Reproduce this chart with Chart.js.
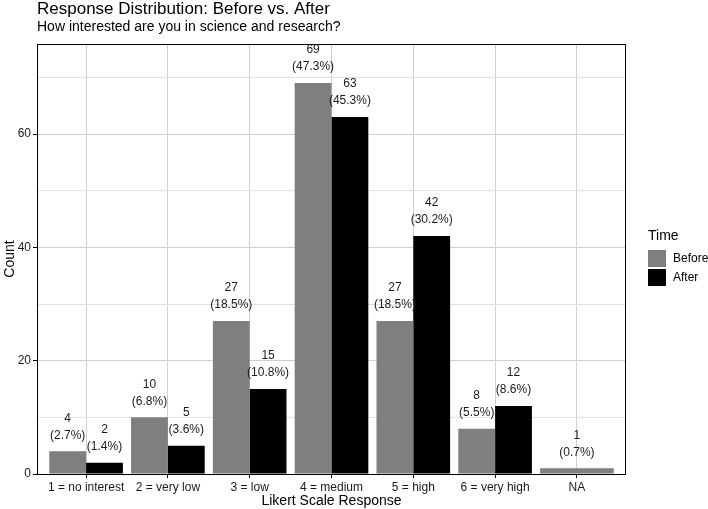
<!DOCTYPE html>
<html>
<head>
<meta charset="utf-8">
<script src="https://cdn.jsdelivr.net/npm/chart.js@4/dist/chart.umd.min.js"></script>
<style>
  html, body { margin: 0; padding: 0; background: #fff; }
  #wrap { width: 708px; height: 509px; }
</style>
</head>
<body>
<div id="wrap"><canvas id="c" width="708" height="509"></canvas></div>
<script>
var categories = ['1 = no interest', '2 = very low', '3 = low', '4 = medium', '5 = high', '6 = very high', 'NA'];
var before = [4, 10, 27, 69, 27, 8, 1];
var after = [2, 5, 15, 63, 42, 12, null];
var yTicks = [0, 10, 20, 30, 40, 50, 60, 70];
var yMax = 75.9;

var FONT = '"Liberation Sans", Arial, Helvetica, sans-serif';

function toPoints(arr)
{
    return arr.map(function(v, i) { return { x: i + 1, y: v }; });
}
function total(arr)
{
    return arr.reduce(function(a, b) { return a + (b || 0); }, 0);
}

var barLabels = {
    id: 'barLabels',
    afterDatasetsDraw: function(chart)
    {
        var ctx = chart.ctx;
        ctx.save();
        ctx.font = '12px ' + FONT;
        ctx.fillStyle = '#1a1a1a';
        ctx.textAlign = 'center';
        ctx.textBaseline = 'middle';
        chart.data.datasets.forEach(function(ds, di)
        {
            var meta = chart.getDatasetMeta(di);
            var sum = total(ds.raw);
            meta.data.forEach(function(el, i)
            {
                var v = ds.raw[i];
                if (v === null || v === undefined) return;
                var pct = (v / sum * 100).toFixed(1);
                ctx.fillText(String(v), el.x, el.y - 33);
                ctx.fillText('(' + pct + '%)', el.x, el.y - 16);
            });
        });
        ctx.restore();
    },
    afterDraw: function(chart)
    {
        var ctx = chart.ctx;
        var a = chart.chartArea;
        ctx.save();
        // panel border
        ctx.strokeStyle = '#000';
        ctx.lineWidth = 1;
        ctx.strokeRect(a.left + 0.5, a.top + 0.5, a.right - a.left - 1, a.bottom - a.top);
        // titles
        ctx.fillStyle = '#000';
        ctx.textAlign = 'left';
        ctx.textBaseline = 'alphabetic';
        ctx.font = '17px ' + FONT;
        ctx.fillText('Response Distribution: Before vs. After', 37, 14);
        ctx.font = '14px ' + FONT;
        ctx.fillText('How interested are you in science and research?', 37, 31);
        // axis titles
        ctx.font = '14px ' + FONT;
        ctx.textAlign = 'center';
        ctx.textBaseline = 'middle';
        ctx.fillText('Likert Scale Response', (a.left + a.right) / 2, 501);
        ctx.save();
        ctx.translate(10, (a.top + a.bottom) / 2);
        ctx.rotate(-Math.PI / 2);
        ctx.fillText('Count', 0, 0);
        ctx.restore();
        // legend
        ctx.textAlign = 'left';
        ctx.font = '14px ' + FONT;
        ctx.fillText('Time', 648, 236);
        ctx.font = '12px ' + FONT;
        var keys = [['Before', '#7f7f7f'], ['After', '#000000']];
        keys.forEach(function(k, i)
        {
            var y = 250 + i * 19;
            ctx.fillStyle = k[1];
            ctx.fillRect(648, y, 18, 17);
            ctx.fillStyle = '#000';
            ctx.fillText(k[0], 673, y + 9);
        });
        ctx.restore();
    }
};

window.onload = function()
{
    var chart = new Chart(document.getElementById('c').getContext('2d'), {
        type: 'bar',
        data: {
            datasets: [
                {
                    label: 'Before',
                    data: toPoints(before),
                    raw: before,
                    backgroundColor: '#7f7f7f',
                    categoryPercentage: 0.9,
                    barPercentage: 1.0,
                    skipNull: true
                },
                {
                    label: 'After',
                    data: toPoints(after),
                    raw: after,
                    backgroundColor: '#000000',
                    categoryPercentage: 0.9,
                    barPercentage: 1.0,
                    skipNull: true
                }
            ]
        },
        options: {
            responsive: false,
            animation: false,
            layout: { padding: { top: 44, right: 82, left: 0, bottom: 0 } },
            plugins: {
                legend: { display: false },
                tooltip: { enabled: false }
            },
            scales: {
                x: {
                    type: 'linear',
                    min: 0.4,
                    max: 7.6,
                    offset: false,
                    afterFit: function(s) { s.height = 35; },
                    afterBuildTicks: function(s)
                    {
                        s.ticks = categories.map(function(c, i) { return { value: i + 1 }; });
                    },
                    border: { display: false },
                    grid: {
                        offset: false,
                        color: '#cfcfcf',
                        lineWidth: 1,
                        tickColor: '#000',
                        tickLength: 4
                    },
                    ticks: {
                        autoSkip: false,
                        maxRotation: 0,
                        padding: 2,
                        color: '#1a1a1a',
                        font: { family: FONT, size: 12 },
                        callback: function(v) { return categories[Math.round(v) - 1]; }
                    }
                },
                y: {
                    min: 0,
                    max: yMax,
                    afterFit: function(s) { s.width = 37; },
                    afterBuildTicks: function(s)
                    {
                        s.ticks = yTicks.map(function(v) { return { value: v }; });
                    },
                    border: { display: false },
                    grid: {
                        color: function(c) { return c.tick && c.tick.value % 20 ? '#e0e0e0' : '#cfcfcf'; },
                        lineWidth: 1,
                        tickColor: function(c) { return c.tick && c.tick.value % 20 ? 'rgba(0,0,0,0)' : '#000'; },
                        tickLength: 4
                    },
                    ticks: {
                        padding: 2,
                        color: '#1a1a1a',
                        font: { family: FONT, size: 12 },
                        callback: function(v) { return v % 20 ? '' : String(v); }
                    }
                }
            }
        },
        plugins: [barLabels]
    });
};
</script>
</body>
</html>
